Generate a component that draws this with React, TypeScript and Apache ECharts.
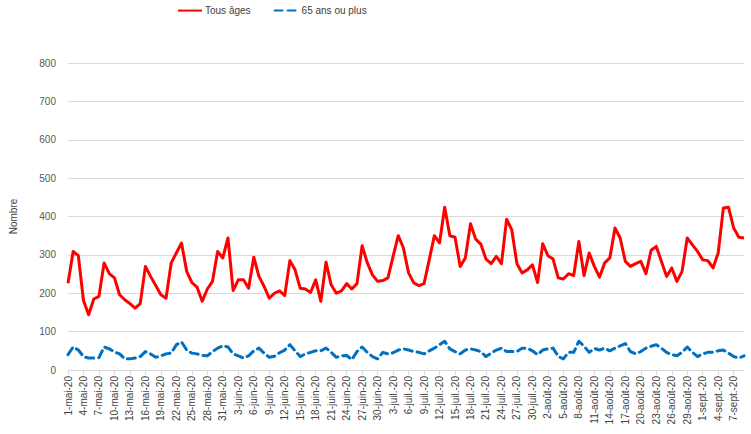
import React, { useEffect, useRef } from "react";
import * as echarts from "echarts";

const MONTHS = ["mai", "juin", "juil.", "août", "sept."];
const MONTH_DAYS = [31, 30, 31, 31, 9];
const YEAR_SUFFIX = "20";

const TICKS_Y = [0, 100, 200, 300, 400, 500, 600, 700, 800];

const TOUS_AGES = [
  226, 309, 298, 181, 144, 185, 192, 279, 251, 240,
  196, 183, 173, 161, 173, 270, 244, 220, 196, 187,
  279, 305, 331, 257, 228, 216, 179, 211, 231, 309,
  292, 344, 207, 235, 235, 213, 294, 244, 218, 187,
  200, 206, 194, 285, 261, 213, 211, 202, 235, 179,
  281, 222, 200, 206, 225, 211, 225, 324, 279, 248,
  231, 233, 240, 296, 350, 318, 253, 227, 220, 225,
  287, 350, 331, 424, 350, 346, 270, 292, 381, 341,
  328, 289, 277, 296, 277, 393, 365, 277, 253, 261,
  274, 228, 329, 298, 289, 240, 237, 251, 246, 335,
  246, 305, 270, 242, 279, 292, 370, 344, 283, 270,
  277, 283, 251, 312, 322, 283, 244, 266, 231, 257,
  344, 326, 309, 287, 285, 266, 305, 422, 424, 370,
  346, 344,
];

const PLUS_65 = [
  40, 60, 52, 35, 31, 31, 32, 60, 55, 47,
  42, 29, 29, 31, 35, 48, 42, 33, 37, 42,
  44, 66, 73, 52, 44, 42, 38, 37, 48, 57,
  63, 60, 42, 37, 31, 37, 50, 57, 44, 33,
  36, 45, 52, 66, 50, 35, 42, 46, 50, 50,
  57, 46, 33, 37, 38, 27, 48, 60, 46, 35,
  29, 46, 42, 45, 52, 55, 52, 48, 46, 42,
  50, 57, 66, 75, 55, 48, 42, 52, 55, 52,
  48, 35, 44, 52, 57, 48, 48, 48, 57, 57,
  50, 40, 52, 55, 57, 35, 29, 46, 46, 75,
  62, 46, 56, 52, 57, 50, 57, 63, 69, 48,
  42, 48, 57, 62, 66, 57, 46, 40, 37, 46,
  60, 46, 35, 42, 46, 46, 50, 52, 44, 35,
  31, 37,
];

const SERIES_NAMES = ["Tous âges", "65 ans ou plus"];
const Y_NAME = "Nombre";

function buildCategories(): string[] {
  const out: string[] = [];
  MONTHS.forEach((m, i) => {
    for (let d = 1; d <= MONTH_DAYS[i]; d++) out.push(`${d}-${m}-${YEAR_SUFFIX}`);
  });
  return out;
}

export default function App() {
  const ref = useRef<HTMLDivElement>(null);
  useEffect(() => {
    if (!ref.current) return;
    const chart = echarts.init(ref.current, undefined, { renderer: "svg" });
    const categories = buildCategories();
    const font = "'Liberation Sans', Arial, sans-serif";
    chart.setOption({
      animation: false,
      backgroundColor: "#ffffff",
      grid: { left: 67, right: 7, top: 63, bottom: 64 },
      legend: {
        left: 177,
        top: 5,
        padding: 0,
        itemWidth: 24,
        itemHeight: 14,
        itemGap: 23,
        itemStyle: { opacity: 0 },
        textStyle: { fontFamily: font, fontSize: 10, color: "#404040", padding: [0, 0, 0, -2] },
        data: SERIES_NAMES,
      },
      xAxis: {
        type: "category",
        data: categories,
        boundaryGap: false,
        axisLine: { show: true, lineStyle: { color: "#d9d9d9", width: 1 } },
        axisTick: { show: true, interval: 2, length: 5, lineStyle: { color: "#d9d9d9" } },
        axisLabel: {
          interval: 2,
          rotate: 90,
          margin: 6,
          fontFamily: font,
          fontSize: 10,
          color: "#404040",
        },
        splitLine: { show: false },
      },
      yAxis: {
        type: "value",
        min: TICKS_Y[0],
        max: TICKS_Y[TICKS_Y.length - 1],
        interval: 100,
        name: Y_NAME,
        nameLocation: "middle",
        nameGap: 50,
        nameTextStyle: { fontFamily: font, fontSize: 10, color: "#404040" },
        axisLine: { show: false },
        axisTick: { show: false },
        axisLabel: { margin: 12, fontFamily: font, fontSize: 10, color: "#595959" },
        splitLine: { show: true, lineStyle: { color: "#d9d9d9", width: 1 } },
      },
      series: [
        {
          name: SERIES_NAMES[0],
          type: "line",
          data: TOUS_AGES,
          symbol: "none",
          lineStyle: { color: "#ff0000", width: 3, join: "round" },
          itemStyle: { color: "#ff0000" },
          z: 3,
        },
        {
          name: SERIES_NAMES[1],
          type: "line",
          data: PLUS_65,
          symbol: "none",
          lineStyle: { color: "#0070c0", width: 3, type: [8, 5], cap: "round", join: "round" },
          itemStyle: { color: "#0070c0" },
          z: 2,
        },
      ],
    });
    return () => chart.dispose();
  }, []);
  return (
    <div
      ref={ref}
      style={{ position: "absolute", left: 0, top: 0, width: 751, height: 434, background: "#fff" }}
    />
  );
}
